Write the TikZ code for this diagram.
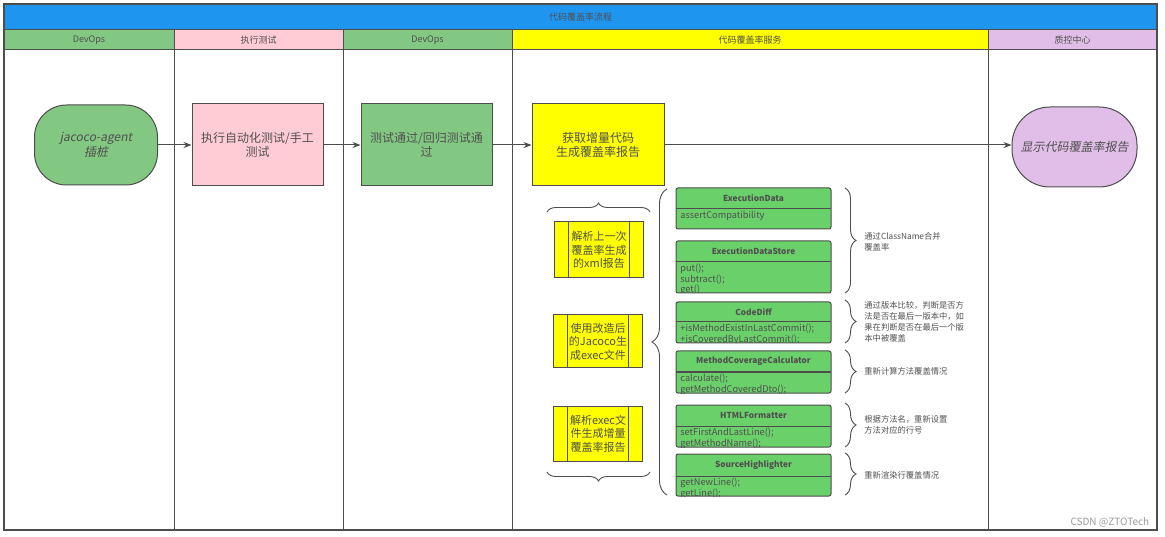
\documentclass[tikz,border=0pt]{standalone}
\usepackage{fontspec}
\setmainfont{Noto Sans CJK SC}[ItalicFont={Noto Sans CJK SC},ItalicFeatures={FakeSlant=0.2}]
\usetikzlibrary{arrows.meta,decorations.pathreplacing}
\definecolor{laneblue}{HTML}{1E96F0}
\definecolor{devgreen}{HTML}{82C882}
\definecolor{testpink}{HTML}{FFCCD5}
\definecolor{svcyellow}{HTML}{FFFF00}
\definecolor{qcpurple}{HTML}{E1BEE7}
\definecolor{clsgreen}{HTML}{6AD06A}
\definecolor{edge}{HTML}{4D4D4D}
\definecolor{txt}{HTML}{505050}

\begin{document}
\begin{tikzpicture}[x=1pt,y=-1pt,line width=0.8pt,>={Stealth[length=8pt,width=6pt]},
  hdr/.style={text=txt,font=\fontsize{9}{10}\selectfont},
  flowbox/.style={draw=edge,line width=1pt,minimum width=131pt,minimum height=82pt,
    align=center,text=txt,font=\fontsize{12}{14.5}\selectfont},
  termbox/.style={flowbox,font=\fontsize{12}{14.5}\selectfont\itshape},
  procbox/.style={draw=edge,fill=svcyellow,line width=1pt,minimum width=89pt,
    align=center,text=txt,font=\fontsize{11}{13.5}\selectfont,
    path picture={
      \draw[edge,line width=1pt] ([xshift=14pt]path picture bounding box.north west)
        -- ([xshift=14pt]path picture bounding box.south west);
      \draw[edge,line width=1pt] ([xshift=-14pt]path picture bounding box.north east)
        -- ([xshift=-14pt]path picture bounding box.south east);}},
  clsbox/.style={draw=edge,fill=clsgreen,line width=1pt,rounded corners=2pt},
  clsname/.style={text=txt,font=\fontsize{8.3}{9}\selectfont\bfseries},
  clsbody/.style={anchor=north west,align=left,text=txt,inner xsep=3pt,inner ysep=2pt,
    font=\fontsize{9.2}{10.3}\selectfont},
  curly/.style={draw=edge,line width=0.9pt,decorate,decoration={brace,amplitude=#1}},
  note/.style={anchor=west,align=left,text=txt,inner sep=0pt,
    font=\fontsize{8.3}{11}\selectfont}]
\useasboundingbox (0,0) rectangle (1165,537);
% 标题栏
\fill[laneblue] (4,4) rectangle (1157,30);
\node[hdr] (title) at (580.5,17) {代码覆盖率流程};
% 泳道表头
\foreach \xa/\xb/\col/\lbl in {4/174/devgreen/DevOps,174/343/testpink/执行测试,
  343/512/devgreen/DevOps,512/988/svcyellow/代码覆盖率服务,988/1157/qcpurple/质控中心}{
  \fill[\col] (\xa,30) rectangle (\xb,50);
  \node[hdr] (lane\xa) at ({(\xa+\xb)/2},40) {\lbl};
}
% 泳道边框
\draw[edge,line width=1.2pt] (4,4) rectangle (1157,530);
\draw[edge,line width=1pt] (4,30) -- (1157,30) (4,50) -- (1157,50);
\foreach \x in {174,343,512,988}
  \draw[edge,line width=1pt] (\x,30) -- (\x,530);
% 主流程
\node[termbox,fill=devgreen,minimum width=123pt,minimum height=80pt,rounded corners=32pt]
  (agent) at (96,145) {jacoco-agent\\插桩};
\node[flowbox,fill=testpink] (runtest) at (257.5,145) {执行自动化测试/手工\\测试};
\node[flowbox,fill=devgreen] (passed) at (426.5,145) {测试通过/回归测试通\\过};
\node[flowbox,fill=svcyellow,minimum width=132pt] (getcov) at (598,145) {获取增量代码\\生成覆盖率报告};
\node[termbox,fill=qcpurple,minimum width=125pt,minimum height=80pt,rounded corners=38pt]
  (showrep) at (1074.5,147) {显示代码覆盖率报告};
\draw[->,edge,line width=1pt] (agent) -- (runtest);
\draw[->,edge,line width=1pt] (runtest) -- (passed);
\draw[->,edge,line width=1pt] (passed) -- (getcov);
\draw[->,edge,line width=1pt] (getcov.east) -- (getcov.east -| showrep.west);
% 解析步骤
\draw[curly=9pt] (547,212) -- (650,212);
\node[procbox,minimum height=56pt] (step1) at (599,250) {解析上一次\\覆盖率生成\\的xml报告};
\node[procbox,minimum height=53pt] (step2) at (598,341.5) {使用改造后\\的Jacoco生\\成exec文件};
\node[procbox,minimum height=55pt] (step3) at (598,433.5) {解析exec文\\件生成增量\\覆盖率报告};
\draw[curly=9pt] (650,472) -- (547,472);
% 类图
\draw[curly=15pt] (667,495) -- (667,189);
\foreach \i/\cname/\ta/\tb/\tc/\mtd in {
  1/ExecutionData/188/209/229/{assertCompatibility},
  2/ExecutionDataStore/241/262/293/{put();\\subtract();\\get()},
  3/CodeDiff/302/322/343/{+isMethodExistInLastCommit();\\+isCoveredByLastCommit();},
  4/MethodCoverageCalculator/351/372/393/{calculate();\\getMethodCoveredDto();},
  5/HTMLFormatter/405/426/447/{setFirstAndLastLine();\\getMethodName();},
  6/SourceHighlighter/454/476/496/{getNewLine();\\getLine();}}{
  \draw[clsbox] (676,\ta) rectangle (831,\tc);
  \draw[edge,line width=1pt] (676,\tb) -- (831,\tb);
  \node[clsname] (cls\i) at (753.5,{(\ta+\tb)/2}) {\cname};
  \begin{scope}
    \clip (676,\tb) rectangle (831,\tc);
    \node[clsbody] (mtd\i) at (677,\tb) {\mtd};
  \end{scope}
}
% 说明
\draw[curly=11pt] (845,188) -- (845,293);
\node[note] (note1) at (864,242) {通过ClassName合并\\覆盖率};
\draw[curly=11pt] (845,300) -- (845,343);
\node[note] (note2) at (864,322) {通过版本比较，判断是否方\\法是否在最后一版本中，如\\果在判断是否在最后一个版\\本中被覆盖};
\draw[curly=11pt] (845,350) -- (845,393);
\node[note] (note3) at (864,371) {重新计算方法覆盖情况};
\draw[curly=11pt] (845,403) -- (845,447);
\node[note] (note4) at (864,425) {根据方法名，重新设置\\方法对应的行号};
\draw[curly=11pt] (845,453) -- (845,495);
\node[note] (note5) at (864,475) {重新渲染行覆盖情况};
% 水印
\node[anchor=east,text=black!40,font=\fontsize{10}{12}\selectfont] (mark) at (1153,522) {CSDN @ZTOTech};
\end{tikzpicture}
\end{document}
